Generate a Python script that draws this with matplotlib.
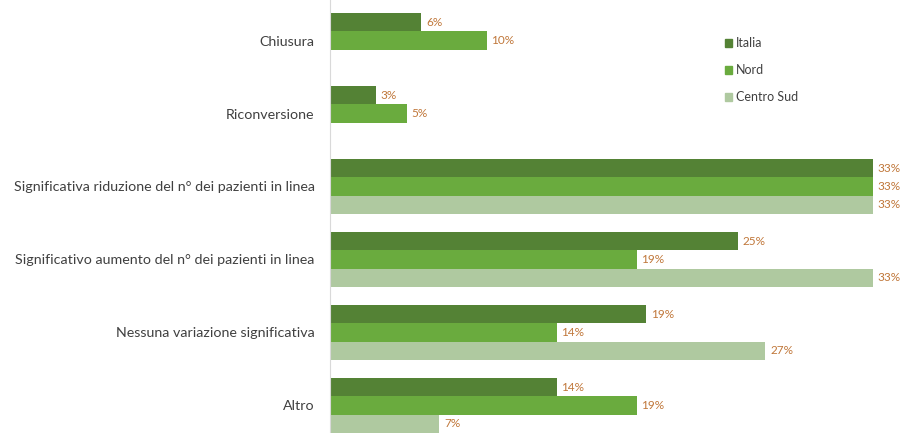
import matplotlib
matplotlib.use("Agg")
import matplotlib.pyplot as plt
import matplotlib.patches as mpatches
import numpy as np

plt.rcParams["font.family"] = ["Lato", "DejaVu Sans"]

categorie = [
    "Chiusura",
    "Riconversione",
    "Significativa riduzione del n° dei pazienti in linea",
    "Significativo aumento del n° dei pazienti in linea",
    "Nessuna variazione significativa",
    "Altro",
]
serie = ["Italia", "Nord", "Centro Sud"]
italia = [5.6, 2.8, 33.3, 25.0, 19.4, 13.9]
nord = [9.6, 4.7, 33.3, 18.8, 13.9, 18.8]
centro_sud = [0.0, 0.0, 33.3, 33.3, 26.7, 6.7]

colori = ["#548235", "#6aab3e", "#afc9a0"]
col_etichette = "#c0773a"
col_testo = "#404040"

fig = plt.figure(figsize=(9.04, 4.33), dpi=100)
ax = fig.add_axes([330 / 904, 0, 1 - 330 / 904, 1])

y = np.arange(len(categorie))
h = 0.253
for k, (vals, nome, col) in enumerate(zip([italia, nord, centro_sud], serie, colori)):
    pos = y + (k - 1) * h
    for yy, v in zip(pos, vals):
        if v <= 0:
            continue
        ax.barh(yy, v, height=h, color=col, edgecolor="none")
        ax.text(v + 0.3, yy, f"{v:.0f}%", va="center", ha="left",
                fontsize=8.5, color=col_etichette)

ax.set_xlim(0, 35.2)
ax.set_ylim(5.377, -0.555)
ax.set_yticks(y)
ax.set_yticklabels(categorie, fontsize=10.3, color=col_testo)
ax.tick_params(axis="y", length=0, pad=11)
ax.set_xticks([])
for s in ["top", "right", "bottom"]:
    ax.spines[s].set_visible(False)
ax.spines["left"].set_color("#d9d9d9")
ax.spines["left"].set_linewidth(0.8)

handles = [mpatches.Patch(color=c, label=n) for c, n in zip(colori, serie)]
leg = fig.legend(handles=handles, loc="upper left", bbox_to_anchor=(720 / 904, 1 - 32 / 433),
                 frameon=False, fontsize=9, handlelength=0.6, handleheight=0.6,
                 handletextpad=0.3, labelspacing=1.2, borderaxespad=0)
for t in leg.get_texts():
    t.set_color(col_testo)

fig.savefig("out.png", dpi=100)
